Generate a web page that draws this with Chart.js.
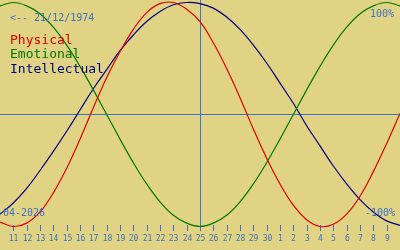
<!DOCTYPE html>
<html>
<head>
<meta charset="utf-8">
<script src="https://cdn.jsdelivr.net/npm/chart.js@4/dist/chart.umd.min.js"></script>
<style>
  html, body { margin: 0; padding: 0; background: #e1d384; }
  #wrap { width: 400px; height: 250px; }
</style>
</head>
<body>
<div id="wrap"><canvas id="bio" width="400" height="250"></canvas></div>
<script>
// days shown along the bottom (10 April .. 10 May), index 0..30
const days = ['10','11','12','13','14','15','16','17','18','19','20','21','22','23','24','25',
              '26','27','28','29','30','1','2','3','4','5','6','7','8','9','10'];
const todayIndex = 15;

const physical = [-0.96,-1.00,-0.97,-0.87,-0.70,-0.48,-0.22,0.06,0.33,0.56,0.76,0.91,0.99,1.00,0.94,0.83,
                  0.64,0.41,0.15,-0.13,-0.39,-0.62,-0.81,-0.94,-1.00,-0.98,-0.89,-0.73,-0.51,-0.26,0.01];
const emotional = [0.97,1.00,0.97,0.90,0.78,0.62,0.43,0.22,0.00,-0.22,-0.43,-0.62,-0.78,-0.90,-0.97,-1.00,
                   -0.97,-0.90,-0.78,-0.62,-0.43,-0.22,0.00,0.22,0.43,0.62,0.78,0.90,0.97,1.00,0.97];
const intellectual = [-0.89,-0.79,-0.66,-0.50,-0.33,-0.15,0.04,0.23,0.40,0.57,0.71,0.83,0.92,0.98,1.00,0.99,
                      0.95,0.87,0.76,0.62,0.46,0.28,0.10,-0.10,-0.28,-0.46,-0.62,-0.76,-0.87,-0.95,-0.99];

const birthText = '<-- 21/12/1974';
const monthText = '04-2026';
const legendNames = ['Physical', 'Emotional', 'Intellectual'];
const lineColors = ['#e00000', '#007800', '#000080'];
const blue = '#3f70c4';

function toPoints(values) {
    return values.map((v, i) => ({ x: i, y: v }));
}

const overlay = {
    id: 'overlay',
    beforeDraw(chart) {
        const ctx = chart.ctx;
        const x = chart.scales.x;
        const y = chart.scales.y;
        ctx.save();
        ctx.fillStyle = '#e1d384';
        ctx.fillRect(0, 0, chart.width, chart.height);

        ctx.strokeStyle = blue;
        ctx.lineWidth = 1;
        // zero line
        const y0 = Math.round(y.getPixelForValue(0)) + 0.5;
        ctx.beginPath();
        ctx.moveTo(0, y0);
        ctx.lineTo(chart.width, y0);
        ctx.stroke();
        // today line
        const xt = Math.round(x.getPixelForValue(todayIndex)) + 0.5;
        ctx.beginPath();
        ctx.moveTo(xt, 0);
        ctx.lineTo(xt, y.getPixelForValue(-1));
        ctx.stroke();

        // day ticks and labels
        ctx.font = '8px "DejaVu Sans Mono"';
        ctx.fillStyle = blue;
        ctx.textAlign = 'center';
        ctx.textBaseline = 'alphabetic';
        for (let i = 1; i < days.length - 1; i++) {
            const px = Math.round(x.getPixelForValue(i)) + 0.5;
            ctx.beginPath();
            ctx.moveTo(px, 225);
            ctx.lineTo(px, 231);
            ctx.stroke();
            ctx.fillText(days[i], px, 241);
        }
        ctx.restore();
    },
    afterDraw(chart) {
        const ctx = chart.ctx;
        ctx.save();
        ctx.textBaseline = 'alphabetic';
        ctx.font = '10px "DejaVu Sans Mono"';
        ctx.fillStyle = blue;
        ctx.textAlign = 'left';
        ctx.fillText(birthText, 10, 21);
        ctx.fillText(monthText, 3, 216);
        ctx.textAlign = 'right';
        ctx.fillText('100%', 394, 17);
        ctx.fillText('-100%', 395, 216);

        ctx.font = '13px "DejaVu Sans Mono"';
        ctx.textAlign = 'left';
        const baselines = [43.5, 58, 72.5];
        legendNames.forEach((name, i) => {
            ctx.fillStyle = lineColors[i];
            ctx.fillText(name, 10, baselines[i]);
        });
        ctx.restore();
    }
};

function makeSet(label, values, color) {
    return {
        label: label,
        data: toPoints(values),
        borderColor: color,
        borderWidth: 1.2,
        pointRadius: 0,
        tension: 0.4,
        fill: false
    };
}

const chart = new Chart(document.getElementById('bio').getContext('2d'), {
    type: 'line',
    data: {
        datasets: [
            makeSet(legendNames[0], physical, lineColors[0]),
            makeSet(legendNames[1], emotional, lineColors[1]),
            makeSet(legendNames[2], intellectual, lineColors[2])
        ]
    },
    options: {
        responsive: false,
        animation: false,
        layout: { padding: 0 },
        plugins: { legend: { display: false }, tooltip: { enabled: false } },
        scales: {
            x: { type: 'linear', min: 0, max: 30, display: false },
            y: { min: -1.2098, max: 1.0223, display: false }
        }
    },
    plugins: [overlay]
});
</script>
</body>
</html>
